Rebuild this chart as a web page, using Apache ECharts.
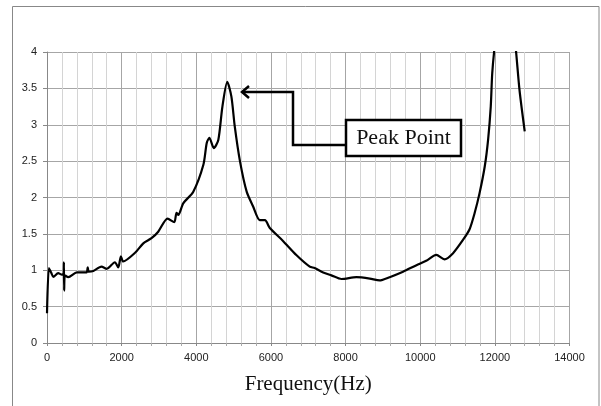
<!DOCTYPE html>
<html><head><meta charset="utf-8">
<script src="https://cdn.jsdelivr.net/npm/echarts@6/dist/echarts.min.js"></script>
<style>html,body{margin:0;padding:0;background:#fff}#c{width:601px;height:406px}</style>
</head><body><div id="c"></div>
<script>
const freq = [0,50,110,170,300,400,445,452,460,480,570,800,1060,1090,1120,1240,1460,1600,1820,1910,1980,2040,2360,2580,2800,2980,3230,3410,3470,3520,3650,3920,4190,4280,4350,4470,4590,4700,4830,4940,5030,5170,5350,5520,5700,5840,5970,6330,6680,7040,7170,7400,7620,7890,8290,8650,8910,9180,9540,9900,10160,10430,10650,10880,11150,11320,11460,11590,11730,11820,11890,11930,12000,12250,12530,12660,12800];
const amp  = [0.41,1.03,0.97,0.91,0.96,0.94,0.95,1.11,0.72,0.93,0.905,0.97,0.97,1.04,0.98,0.99,1.05,1.02,1.11,1.04,1.19,1.12,1.24,1.37,1.44,1.53,1.71,1.66,1.79,1.76,1.92,2.08,2.45,2.75,2.82,2.68,2.79,3.25,3.59,3.39,2.98,2.50,2.08,1.88,1.69,1.69,1.58,1.40,1.21,1.05,1.03,0.97,0.93,0.88,0.905,0.886,0.86,0.905,0.98,1.07,1.13,1.21,1.15,1.235,1.42,1.56,1.79,2.06,2.43,2.80,3.25,3.71,4.1,5.2,4.2,3.48,2.91];
const xTicks = [0,2000,4000,6000,8000,10000,12000,14000];
const yTicks = [0,0.5,1,1.5,2,2.5,3,3.5,4];
const axisTitle = 'Frequency(Hz)';
const noteText = 'Peak Point';

const chart = echarts.init(document.getElementById('c'));
const lbl = {color:'#222', fontFamily:'Liberation Sans', fontSize:11};
chart.setOption({
  animation:false,
  backgroundColor:'#fff',
  grid:{left:47, right:31.5, top:52, bottom:63},
  xAxis:{type:'value', min:xTicks[0], max:xTicks[xTicks.length-1], interval:2000,
    axisLine:{lineStyle:{color:'#888', width:1}},
    axisTick:{show:true, length:3, lineStyle:{color:'#888'}},
    minorTick:{show:true, splitNumber:5, length:3, lineStyle:{color:'#aaa'}},
    splitLine:{show:true, lineStyle:{color:'#a6a6a6', width:1}},
    minorSplitLine:{show:true, lineStyle:{color:'#d4d4d4', width:1}},
    axisLabel:Object.assign({margin:9, formatter:v=>String(v)}, lbl),
    name:axisTitle, nameLocation:'middle', nameGap:31,
    nameTextStyle:{fontFamily:'Liberation Serif', fontSize:21, color:'#111'}
  },
  yAxis:{type:'value', min:yTicks[0], max:yTicks[yTicks.length-1], interval:0.5,
    axisLine:{show:true, lineStyle:{color:'#888', width:1}},
    axisTick:{show:true, length:4, lineStyle:{color:'#888'}},
    splitLine:{show:true, lineStyle:{color:'#a6a6a6', width:1}},
    axisLabel:Object.assign({margin:10, formatter:v=>String(v)}, lbl)
  },
  series:[{type:'line', data:freq.map((f,i)=>[f,amp[i]]), showSymbol:false, smooth:0.25, clip:true,
    lineStyle:{color:'#000', width:2.2}}],
  graphic:[
    {type:'rect', z:100, shape:{x:12.5, y:6.5, width:586.5, height:420}, style:{fill:'none', stroke:'#888', lineWidth:1}, silent:true},
    {type:'polyline', z:100, shape:{points:[[242,92],[293,92],[293,145],[346,145]]}, style:{fill:'none', stroke:'#000', lineWidth:2.5}},
    {type:'polyline', z:100, shape:{points:[[249,86],[242,92],[249,98]]}, style:{fill:'none', stroke:'#000', lineWidth:2.5}},
    {type:'rect', z:100, shape:{x:346, y:120, width:115, height:36}, style:{fill:'#fff', stroke:'#000', lineWidth:2.5}},
    {type:'text', z:101, x:403.5, y:138.5, style:{text:noteText, fontFamily:'Liberation Serif', fontSize:22, fill:'#111', align:'center', verticalAlign:'middle'}}
  ]
});
</script></body></html>
